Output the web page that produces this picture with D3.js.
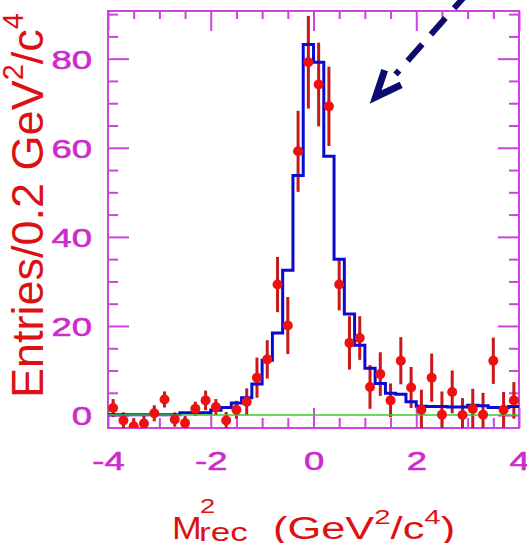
<!DOCTYPE html>
<html>
<head>
<meta charset="utf-8">
<script src="https://cdn.jsdelivr.net/npm/d3@7"></script>
<style>
body { margin: 0; background: #fff; }
svg text { font-family: "Liberation Sans", Arial, Helvetica, sans-serif; }
</style>
</head>
<body>
<div id="chart"></div>
<script>
var binStart = -4, binWidth = 0.2;
var fitValues = [0.1, 0.1, 0.1, 0.1, 0.1, 0.1, 0.1, 0.5, 0.5, 0.5,
                 1.1, 1.7, 2.7, 3.9, 7.0, 12.3, 18.4, 32.5, 53.8, 83.2,
                 79.2, 58.1, 35.0, 22.7, 15.7, 10.5, 7.1, 4.9, 4.7, 3.0,
                 2.0, 1.9, 1.9, 1.8, 1.8, 2.2, 2.1, 1.7, 1.7, 1.9];
var dataX = [-3.9, -3.7, -3.5, -3.3, -3.1, -2.9, -2.7, -2.5, -2.3, -2.1,
             -1.9, -1.7, -1.5, -1.3, -1.1, -0.9, -0.7, -0.5, -0.3, -0.1,
             0.1, 0.3, 0.5, 0.7, 0.9, 1.1, 1.3, 1.5, 1.7, 1.9,
             2.1, 2.3, 2.5, 2.7, 2.9, 3.1, 3.3, 3.5, 3.7, 3.9];
var dataY = [1.6, -1.2, -2.5, -1.9, 0.4, 3.5, -1.0, -1.8, 1.4, 3.3,
             1.8, -1.2, 1.2, 3.0, 8.4, 12.5, 29.3, 20.1, 59.2, 79.2,
             74.2, 69.3, 29.3, 16.2, 17.3, 6.3, 9.2, 3.3, 12.2, 6.2,
             1.2, 8.4, 0.1, 5.2, 0.0, 1.4, 0.1, 12.2, 1.2, 3.3];
var dataErr = [2.0, 1.8, 1.8, 1.8, 1.8, 1.8, 1.6, 1.6, 1.6, 2.2,
               1.8, 1.9, 2.0, 3.0, 4.5, 4.3, 6.2, 6.4, 9.1, 10.4,
               9.4, 8.9, 5.8, 6.0, 4.9, 4.9, 4.9, 3.8, 5.3, 4.6,
               4.5, 5.4, 5.2, 4.8, 3.8, 4.5, 4.9, 5.2, 4.0, 4.1];
var xTicks = [-4, -2, 0, 2, 4];
var yTicks = [0, 20, 40, 60, 80];
var arrowStart = [3.02, 95.0], arrowEnd = [1.21, 71.4];

var width = 527, height = 543;
var frame = {left: 108, right: 519, top: 11, bottom: 428};
var magenta = "#cc44dd", labelColor = "#cc2ccc", red = "#dd1111";

var svg = d3.select("#chart").append("svg")
    .attr("width", width)
    .attr("height", height);

var x = d3.scaleLinear().domain([-4, 4]).range([frame.left, frame.right]);
var y = d3.scaleLinear().domain([-2.9, 90.7]).range([frame.bottom, frame.top]);

svg.append("clipPath").attr("id", "plot")
  .append("rect")
    .attr("x", frame.left).attr("y", frame.top)
    .attr("width", frame.right - frame.left)
    .attr("height", frame.bottom - frame.top);

var xMinor = d3.range(-4, 4.01, 0.5).filter(function(v) { return xTicks.indexOf(v) < 0; });
var yMinor = d3.range(0, 90.1, 5).filter(function(v) { return yTicks.indexOf(v) < 0; });
var plain = function(d) { return String(d); };

function styleAxis(g) {
    g.select(".domain").remove();
    g.selectAll(".tick line").attr("stroke", magenta).attr("stroke-width", 2);
}

var xAxisG = svg.append("g").attr("transform", "translate(0," + frame.bottom + ")")
    .call(d3.axisBottom(x).tickValues(xTicks).tickSize(-20).tickFormat(plain)).call(styleAxis);
svg.append("g").attr("transform", "translate(0," + frame.bottom + ")")
    .call(d3.axisBottom(x).tickValues(xMinor).tickSize(-10).tickFormat("")).call(styleAxis);
svg.append("g").attr("transform", "translate(0," + frame.top + ")")
    .call(d3.axisTop(x).tickValues(xTicks).tickSize(-20).tickFormat("")).call(styleAxis);
svg.append("g").attr("transform", "translate(0," + frame.top + ")")
    .call(d3.axisTop(x).tickValues(xMinor).tickSize(-8).tickFormat("")).call(styleAxis);
var yAxisG = svg.append("g").attr("transform", "translate(" + frame.left + ",0)")
    .call(d3.axisLeft(y).tickValues(yTicks).tickSize(-21).tickFormat(plain)).call(styleAxis);
svg.append("g").attr("transform", "translate(" + frame.left + ",0)")
    .call(d3.axisLeft(y).tickValues(yMinor).tickSize(-10).tickFormat("")).call(styleAxis);
svg.append("g").attr("transform", "translate(" + frame.right + ",0)")
    .call(d3.axisRight(y).tickValues(yTicks).tickSize(-21).tickFormat("")).call(styleAxis);
svg.append("g").attr("transform", "translate(" + frame.right + ",0)")
    .call(d3.axisRight(y).tickValues(yMinor).tickSize(-10).tickFormat("")).call(styleAxis);

svg.selectAll(".tick text")
    .attr("fill", labelColor)
    .attr("stroke", labelColor)
    .attr("stroke-width", 0.6)
    .attr("font-size", 26)
    .attr("font-family", "Liberation Sans, Arial, sans-serif");
xAxisG.selectAll(".tick text")
    .attr("y", 0).attr("dy", 0)
    .attr("transform", "translate(0,42) scale(1.4,1)");
yAxisG.selectAll(".tick text")
    .attr("x", 0).attr("dy", "0.36em")
    .attr("transform", "translate(-16,0) scale(1.4,1)");

svg.append("rect")
    .attr("x", frame.left).attr("y", frame.top)
    .attr("width", frame.right - frame.left)
    .attr("height", frame.bottom - frame.top)
    .attr("fill", "none")
    .attr("stroke", magenta)
    .attr("stroke-width", 2);

var plot = svg.append("g").attr("clip-path", "url(#plot)");

var bars = dataX.map(function(d, i) { return {x: d, y: dataY[i], e: dataErr[i]}; });

plot.selectAll("line.err")
    .data(bars)
    .enter().append("line")
    .attr("class", "err")
    .attr("x1", function(d) { return x(d.x); })
    .attr("x2", function(d) { return x(d.x); })
    .attr("y1", function(d) { return y(d.y - d.e); })
    .attr("y2", function(d) { return y(d.y + d.e); })
    .attr("stroke", "#c81818")
    .attr("stroke-width", 3);

var steps = fitValues.map(function(v, i) { return [binStart + i * binWidth, v]; });
steps.push([binStart + fitValues.length * binWidth, fitValues[fitValues.length - 1]]);

plot.append("path")
    .datum(steps)
    .attr("fill", "none")
    .attr("stroke", "#0a0ad0")
    .attr("stroke-width", 3)
    .attr("d", d3.line()
        .curve(d3.curveStepAfter)
        .x(function(d) { return x(d[0]); })
        .y(function(d) { return y(d[1]); }));

plot.append("line")
    .attr("x1", x(-4)).attr("x2", x(4))
    .attr("y1", y(0)).attr("y2", y(0))
    .attr("stroke", "#33cc33")
    .attr("stroke-opacity", 0.75)
    .attr("stroke-width", 2);

plot.selectAll("circle")
    .data(bars)
    .enter().append("circle")
    .attr("cx", function(d) { return x(d.x); })
    .attr("cy", function(d) { return y(d.y); })
    .attr("r", 5)
    .attr("fill", "#ee1111");

// arrow
var ax0 = x(arrowStart[0]), ay0 = y(arrowStart[1]);
var ax1 = x(arrowEnd[0]), ay1 = y(arrowEnd[1]);
var len = Math.sqrt((ax1 - ax0) * (ax1 - ax0) + (ay1 - ay0) * (ay1 - ay0));
var ux = (ax1 - ax0) / len, uy = (ay1 - ay0) / len;
svg.append("line")
    .attr("x1", ax0).attr("y1", ay0)
    .attr("x2", ax1 - ux * 30).attr("y2", ay1 - uy * 30)
    .attr("stroke", "#0c0c6e")
    .attr("stroke-width", 6)
    .attr("stroke-dasharray", "22,13");
svg.append("path")
    .attr("d", "M" + (ax1 - ux * 26 - uy * 11) + "," + (ay1 - uy * 26 + ux * 11)
        + "L" + ax1 + "," + ay1
        + "L" + (ax1 - ux * 26 + uy * 11) + "," + (ay1 - uy * 26 - ux * 11))
    .attr("fill", "none")
    .attr("stroke", "#0c0c6e")
    .attr("stroke-width", 7)
    .attr("stroke-linejoin", "miter");

// axis titles
svg.append("text").attr("fill", red).attr("font-size", 31)
    .attr("transform", "translate(172,539) scale(1.15,1)").text("M");
svg.append("text").attr("fill", red).attr("font-size", 21)
    .attr("transform", "translate(200,513) scale(1.3,1)").text("2");
svg.append("text").attr("fill", red).attr("font-size", 26)
    .attr("transform", "translate(199,541) scale(1.35,1)").text("rec");
var xt = svg.append("text").attr("fill", red).attr("font-size", 31)
    .attr("transform", "translate(273,539) scale(1.4,1)");
xt.append("tspan").text("(GeV");
xt.append("tspan").attr("dy", -15).attr("font-size", 21).text("2");
xt.append("tspan").attr("dy", 15).text("/c");
xt.append("tspan").attr("dy", -15).attr("font-size", 21).text("4");
xt.append("tspan").attr("dy", 15).text(")");

var yt = svg.append("text")
    .attr("fill", red)
    .attr("font-size", 45)
    .attr("transform", "translate(43,398) rotate(-90)");
yt.append("tspan").text("Entries/0.2 GeV");
yt.append("tspan").attr("dy", -20).attr("font-size", 29).text("2");
yt.append("tspan").attr("dy", 20).text("/c");
yt.append("tspan").attr("dy", -20).attr("font-size", 29).text("4");
</script>
</body>
</html>
